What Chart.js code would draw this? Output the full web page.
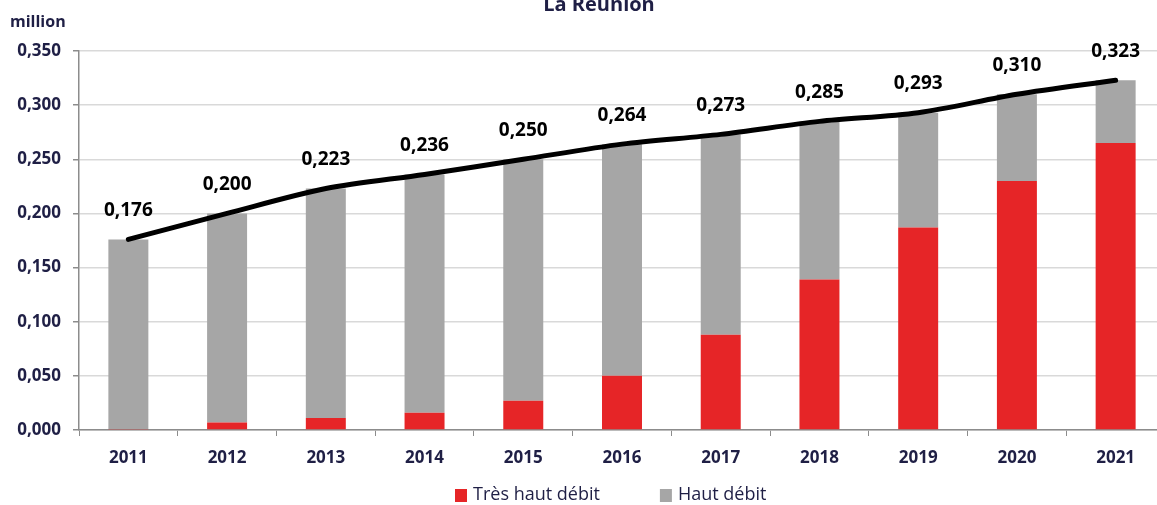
<!DOCTYPE html>
<html>
<head>
<meta charset="utf-8">
<script src="https://cdn.jsdelivr.net/npm/chart.js@4.4.0/dist/chart.umd.min.js"></script>
<style>
  body { margin: 0; overflow: hidden; background: #fff; }
  #wrap { position: absolute; left: 0; top: 0; }
</style>
</head>
<body>
<div id="wrap"><canvas id="chart" width="1170" height="505"></canvas></div>
<script>
const years = ['2011', '2012', '2013', '2014', '2015', '2016', '2017', '2018', '2019', '2020', '2021'];
const tresHautDebit = [0.001, 0.007, 0.011, 0.016, 0.027, 0.050, 0.088, 0.139, 0.187, 0.230, 0.265];
const totals = [0.176, 0.200, 0.223, 0.236, 0.250, 0.264, 0.273, 0.285, 0.293, 0.310, 0.323];
const hautDebit = totals.map((t, i) => +(t - tresHautDebit[i]).toFixed(3));

const navy = '#1f1f45';
const fontFamily = '"Open Sans", sans-serif';
const fmt = v => v.toFixed(3).replace('.', ',');

const extrasPlugin = {
  id: 'extras',
  afterDatasetsDraw(chart) {
    const ctx = chart.ctx;
    ctx.save();
    // values above the total line
    const meta = chart.getDatasetMeta(2);
    ctx.fillStyle = '#000';
    ctx.font = `bold 19px ${fontFamily}`;
    ctx.textAlign = 'center';
    ctx.textBaseline = 'middle';
    meta.data.forEach((pt, i) => {
      ctx.fillText(fmt(totals[i]), pt.x, pt.y - 29);
    });
    // title and unit
    ctx.fillStyle = navy;
    ctx.font = `bold 20px ${fontFamily}`;
    ctx.fillText('La Réunion', 599, 5);
    ctx.textAlign = 'left';
    ctx.font = `bold 16px ${fontFamily}`;
    ctx.fillText('million', 10, 22);
    // legend
    const items = [0, 1].map(i => chart.data.datasets[i]);
    let x = 455;
    ctx.font = `18px ${fontFamily}`;
    items.forEach(ds => {
      ctx.fillStyle = ds.backgroundColor;
      ctx.fillRect(x, 489, 12, 13);
      ctx.fillStyle = navy;
      ctx.fillText(ds.label, x + 18, 495);
      x += 18 + ctx.measureText(ds.label).width + 60;
    });
    ctx.restore();
  }
};

new Chart(document.getElementById('chart').getContext('2d'), {
  type: 'bar',
  data: {
    labels: years,
    datasets: [
      {
        label: 'Très haut débit',
        data: tresHautDebit,
        backgroundColor: '#e62527',
        stack: 'bars',
        barPercentage: 0.405,
        categoryPercentage: 1,
        order: 2
      },
      {
        label: 'Haut débit',
        data: hautDebit,
        backgroundColor: '#a6a6a6',
        stack: 'bars',
        barPercentage: 0.405,
        categoryPercentage: 1,
        order: 2
      },
      {
        type: 'line',
        label: 'Total',
        data: totals,
        stack: 'line',
        borderColor: '#000',
        borderWidth: 5,
        borderCapStyle: 'round',
        pointRadius: 0,
        tension: 0.3,
        order: 1
      }
    ]
  },
  options: {
    responsive: false,
    animation: false,
    layout: { padding: { top: 51, right: 5, bottom: 40, left: 0 } },
    plugins: {
      legend: { display: false },
      tooltip: { enabled: false }
    },
    scales: {
      x: {
        stacked: true,
        offset: true,
        afterFit(scale) { scale.height = 35; },
        border: { color: '#8c8c8c', width: 1.5 },
        grid: { drawOnChartArea: false, drawTicks: true, tickLength: 6, tickColor: '#8c8c8c', offset: true },
        ticks: { color: navy, font: { family: fontFamily, size: 17, weight: 'bold' }, padding: 12 }
      },
      y: {
        stacked: true,
        min: 0,
        max: 0.35,
        afterFit(scale) { scale.width = 79; },
        border: { color: '#8c8c8c', width: 1.5 },
        grid: { color: '#d9d9d9', lineWidth: 1.5, tickLength: 6, tickColor: '#8c8c8c' },
        ticks: {
          stepSize: 0.05,
          color: navy,
          padding: 12,
          font: { family: fontFamily, size: 17, weight: 'bold' },
          callback: v => fmt(v)
        }
      }
    }
  },
  plugins: [extrasPlugin]
});
</script>
</body>
</html>
